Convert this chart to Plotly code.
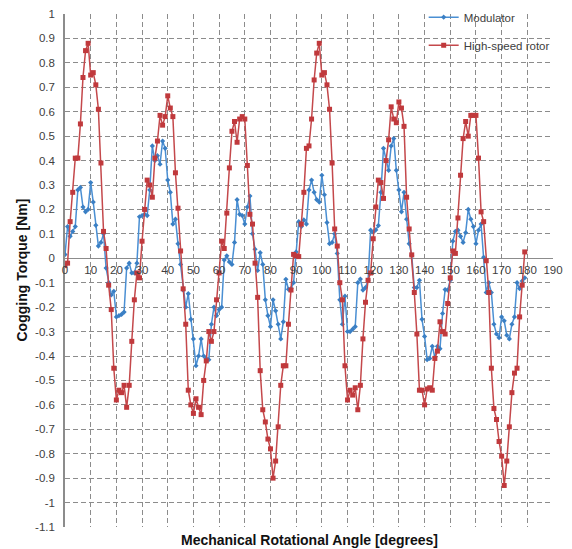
import plotly.graph_objects as go

angle = list(range(0, 180))

modulator = [
    0.015, 0.13, 0.09, 0.11, 0.13, 0.28, 0.29, 0.21, 0.19, 0.20,
    0.31, 0.23, 0.135, 0.05, 0.065, 0.10, -0.04, -0.10, -0.15, -0.135,
    -0.24, -0.235, -0.23, -0.22, -0.04, -0.02, -0.06, -0.06, -0.02, 0.17,
    0.175, 0.18, 0.175, 0.28, 0.46, 0.40, 0.42, 0.385, 0.48, 0.45,
    0.32, 0.27, 0.14, 0.16, 0.06, -0.025, -0.13, -0.20, -0.145, -0.25,
    -0.33, -0.44, -0.40, -0.33, -0.40, -0.41, -0.415, -0.27, -0.20, -0.235,
    -0.21, -0.20, -0.007, 0.01, -0.015, -0.025, 0.065, 0.24, 0.18, 0.175,
    0.14, 0.21, 0.255, 0.10, 0.037, -0.05, 0.023, -0.025, -0.17, -0.235,
    -0.28, -0.17, -0.215, -0.27, -0.33, -0.26, -0.086, -0.127, -0.124, -0.10,
    0.026, 0.15, 0.13, 0.157, 0.14, 0.28, 0.32, 0.27, 0.24, 0.23,
    0.34, 0.26, 0.146, 0.06, 0.065, 0.10, 0.02, -0.17, -0.27, -0.155,
    -0.30, -0.30, -0.29, -0.28, -0.10, -0.085, -0.13, -0.12, -0.09, 0.115,
    0.107, 0.116, 0.134, 0.27, 0.45, 0.40, 0.36, 0.46, 0.49, 0.36,
    0.28, 0.19, 0.27, 0.16, 0.06, 0.012, -0.12, -0.12, -0.09, -0.25,
    -0.32, -0.415, -0.41, -0.36, -0.405, -0.36, -0.37, -0.226, -0.128, -0.13,
    -0.09, 0.07, 0.11, 0.115, 0.09, 0.065, 0.105, 0.20, 0.16, 0.13,
    0.06, 0.115, 0.14, 0.004, -0.14, -0.10, -0.14, -0.27, -0.31, -0.325,
    -0.24, -0.256, -0.315, -0.33, -0.27, -0.24, -0.10, -0.124, -0.093, -0.08,
]

high_speed_rotor = [
    -0.03, -0.02, 0.15, 0.27, 0.41, 0.41, 0.55, 0.74, 0.85, 0.88,
    0.75, 0.76, 0.71, 0.61, 0.39, 0.11, 0.04, -0.11, -0.21, -0.45,
    -0.58, -0.54, -0.55, -0.52, -0.61, -0.52, -0.34, -0.17, -0.06, -0.08,
    0.07, 0.20, 0.32, 0.30, 0.25, 0.41, 0.48, 0.585, 0.545, 0.58,
    0.665, 0.615, 0.58, 0.35, 0.205, 0.03, -0.125, -0.27, -0.54, -0.60,
    -0.635, -0.575, -0.61, -0.64, -0.50, -0.42, -0.30, -0.34, -0.30, -0.17,
    -0.06, 0.07, 0.04, 0.185, 0.37, 0.52, 0.56, 0.475, 0.57, 0.58,
    0.57, 0.38, 0.18, 0.14, -0.02, -0.16, -0.46, -0.62, -0.67, -0.74,
    -0.78, -0.90, -0.83, -0.69, -0.52, -0.44, -0.44, -0.27, -0.13, 0.016,
    0.01, 0.007, 0.14, 0.27, 0.45, 0.46, 0.57, 0.73, 0.84, 0.88,
    0.75, 0.76, 0.71, 0.61, 0.39, 0.12, 0.05, -0.10, -0.17, -0.44,
    -0.58, -0.54, -0.56, -0.53, -0.62, -0.52, -0.33, -0.18, -0.09, -0.06,
    0.08, 0.21, 0.32, 0.31, 0.245, 0.40, 0.485, 0.62, 0.57, 0.555,
    0.64, 0.615, 0.54, 0.25, 0.12, 0.014, -0.14, -0.31, -0.54, -0.54,
    -0.60, -0.535, -0.53, -0.54, -0.41, -0.38, -0.26, -0.30, -0.31, -0.185,
    -0.08, 0.03, 0.02, 0.165, 0.34, 0.49, 0.56, 0.50, 0.585, 0.585,
    0.585, 0.41, 0.19, 0.15, -0.01, -0.14, -0.45, -0.615, -0.66, -0.75,
    -0.81, -0.93, -0.83, -0.69, -0.55, -0.47, -0.45, -0.24, -0.11, 0.026,
]

x_ticks = list(range(0, 200, 10))
x_tick_labels = [str(v) for v in x_ticks]
y_ticks = [round(1 - 0.1 * i, 1) for i in range(22)]
y_tick_labels = ["1", "0.9", "0.8", "0.7", "0.6", "0.5", "0.4", "0.3", "0.2", "0.1", "0",
                 "-0.1", "-0.2", "-0.3", "-0.4", "-0.5", "-0.6", "-0.7", "-0.8", "-0.9", "-1", "-1.1"]

BLUE = "#4A8FD3"
RED = "#C4484B"
GRID = "#8C8C8C"
AXIS = "#8C8C8C"
FONT = "Liberation Sans"

fig = go.Figure()
fig.add_trace(go.Scatter(
    x=angle, y=modulator, name="Modulator", mode="lines+markers",
    legendgroup="m",
    line=dict(color=BLUE, width=1.5),
    marker=dict(symbol="diamond", size=4, color="#3A7FC4"),
))
fig.add_trace(go.Scatter(
    x=angle, y=high_speed_rotor, name="High-speed rotor", mode="lines+markers",
    legendgroup="h",
    line=dict(color=RED, width=1.5),
    marker=dict(symbol="square", size=5, color="#C0393C"),
))

ymin, ymax = -1.1, 1.0
zero_pos = (0 - ymin) / (ymax - ymin)

fig.update_layout(
    width=572, height=549,
    margin=dict(l=65, r=19, t=14, b=22, autoexpand=False),
    paper_bgcolor="white", plot_bgcolor="white",
    font=dict(family=FONT, size=11, color="#333333"),
    showlegend=True,
    legend=dict(x=0.735, y=1.022, xanchor="left", yanchor="top",
                bgcolor="rgba(0,0,0,0)", font=dict(size=11.5, color="#404040"),
                tracegroupgap=9, itemwidth=30),
    xaxis=dict(
        range=[0, 190], tickmode="array", tickvals=x_ticks, ticktext=x_tick_labels,
        showgrid=True, gridcolor=GRID, griddash="5px,3px", gridwidth=1,
        zeroline=False, showline=False, ticks="",
        anchor="free", position=zero_pos, ticklabelstandoff=3,
        tickfont=dict(size=11.5, color="#404040"),
    ),
    yaxis=dict(
        range=[ymin, ymax], tickmode="array", tickvals=y_ticks, ticktext=y_tick_labels,
        showgrid=True, gridcolor=GRID, griddash="5px,3px", gridwidth=1,
        zeroline=True, zerolinecolor=AXIS, zerolinewidth=1.2,
        showline=True, linecolor=AXIS, linewidth=1.5, ticks="",
        ticklabelstandoff=6,
        tickfont=dict(size=11.5, color="#404040"),
    ),
    annotations=[
        dict(text="<b>Mechanical Rotational Angle [degrees]</b>", xref="paper", yref="paper",
             x=0.5, y=0, yshift=-13, xanchor="center", yanchor="middle", showarrow=False,
             font=dict(family=FONT, size=14, color="#111111")),
        dict(text="<b>Cogging Torque [Nm]</b>", xref="paper", yref="paper",
             x=0, xshift=-44, y=0.5, xanchor="center", yanchor="middle", showarrow=False,
             textangle=-90, font=dict(family=FONT, size=14, color="#111111")),
    ],
)

fig.write_html("out.html")
